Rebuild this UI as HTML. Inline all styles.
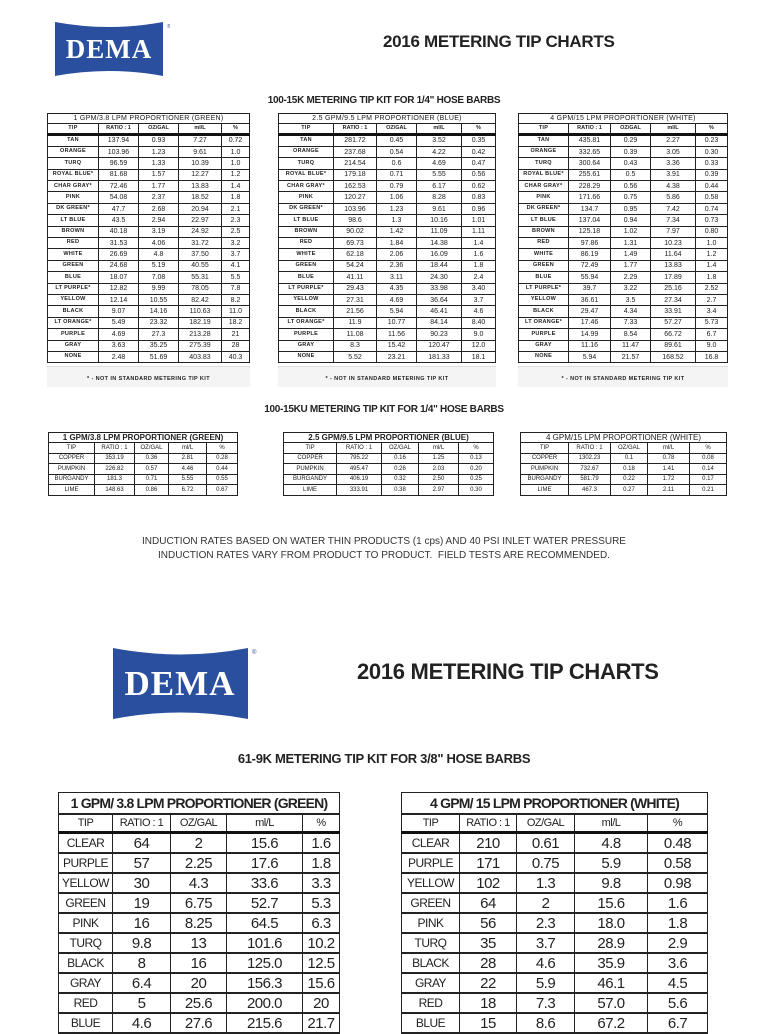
<!DOCTYPE html>
<html><head><meta charset="utf-8"><style>
body{margin:0;width:768px;height:1024px;background:#fff;position:relative;overflow:hidden;font-family:"Liberation Sans",sans-serif;color:#222}
.a{position:absolute}
table{position:absolute;border-collapse:collapse;table-layout:fixed;border:1.5px solid #111}
td{border:1px solid #222;text-align:center;padding:0;white-space:nowrap;overflow:hidden;line-height:1}
.s td{font-size:7px;height:10.4px}
.s td:first-child{font-size:5.5px;font-weight:bold;letter-spacing:.3px}
.s tr.h td{font-weight:bold;font-size:5.5px;height:8.5px}
.s tr.tt td{font-size:7px;height:9px;font-weight:normal}
.s tr.f1 td{border-top:3px solid #111}
.m td{font-size:6px;height:9.5px}
.m tr.tt td{font-size:8px;font-weight:bold;height:9px}
.b td{font-size:15px;height:18px;letter-spacing:-.5px}
.b td:first-child{font-size:12px}
.b tr.h td{font-size:11px;height:16px}
.b tr.tt td{font-size:14px;font-weight:bold;height:20px;letter-spacing:-.8px}
.b tr.f1 td{border-top:3px solid #111}
.b tr td{border-bottom-width:2px}
.ttl{font-weight:bold;color:#222;letter-spacing:-.3px;white-space:nowrap}
.note{font-size:5.5px;font-weight:bold;text-align:center;letter-spacing:.4px}
</style></head><body>

<svg class="a" style="left:55px;top:18px" width="115" height="62" viewBox="0 0 115 62">
<path d="M0 4 Q54 14 108 4 L108 58 Q54 48 0 58 Z" fill="#2a4f9f"/>
<text x="54" y="40" text-anchor="middle" fill="#fff" font-family="Liberation Serif" font-weight="bold" font-size="27" letter-spacing="1">DEMA</text>
<text x="112" y="10" font-size="5" fill="#2a4f9f">®</text>
</svg>
<div class="a ttl" style="left:383px;top:32px;font-size:17px">2016 METERING TIP CHARTS</div>
<div class="a ttl" style="left:0;width:768px;text-align:center;top:95px;font-size:10px">100-15K METERING TIP KIT FOR 1/4" HOSE BARBS</div>

<table class="s" style="left:47px;top:113px;width:203px">
<colgroup><col style="width:51px"><col style="width:40px"><col style="width:40px"><col style="width:43px"><col></colgroup>
<tr class="tt"><td colspan="5">1 GPM/3.8 LPM PROPORTIONER (GREEN)</td></tr>
<tr class="h"><td>TIP</td><td>RATIO : 1</td><td>OZ/GAL</td><td>ml/L</td><td>%</td></tr>
<tr class="f1"><td>TAN</td><td>137.94</td><td>0.93</td><td>7.27</td><td>0.72</td></tr>
<tr><td>ORANGE</td><td>103.96</td><td>1.23</td><td>9.61</td><td>1.0</td></tr>
<tr><td>TURQ</td><td>96.59</td><td>1.33</td><td>10.39</td><td>1.0</td></tr>
<tr><td>ROYAL BLUE*</td><td>81.68</td><td>1.57</td><td>12.27</td><td>1.2</td></tr>
<tr><td>CHAR GRAY*</td><td>72.46</td><td>1.77</td><td>13.83</td><td>1.4</td></tr>
<tr><td>PINK</td><td>54.08</td><td>2.37</td><td>18.52</td><td>1.8</td></tr>
<tr><td>DK GREEN*</td><td>47.7</td><td>2.68</td><td>20.94</td><td>2.1</td></tr>
<tr><td>LT BLUE</td><td>43.5</td><td>2.94</td><td>22.97</td><td>2.3</td></tr>
<tr><td>BROWN</td><td>40.18</td><td>3.19</td><td>24.92</td><td>2.5</td></tr>
<tr><td>RED</td><td>31.53</td><td>4.06</td><td>31.72</td><td>3.2</td></tr>
<tr><td>WHITE</td><td>26.69</td><td>4.8</td><td>37.50</td><td>3.7</td></tr>
<tr><td>GREEN</td><td>24.68</td><td>5.19</td><td>40.55</td><td>4.1</td></tr>
<tr><td>BLUE</td><td>18.07</td><td>7.08</td><td>55.31</td><td>5.5</td></tr>
<tr><td>LT PURPLE*</td><td>12.82</td><td>9.99</td><td>78.05</td><td>7.8</td></tr>
<tr><td>YELLOW</td><td>12.14</td><td>10.55</td><td>82.42</td><td>8.2</td></tr>
<tr><td>BLACK</td><td>9.07</td><td>14.16</td><td>110.63</td><td>11.0</td></tr>
<tr><td>LT ORANGE*</td><td>5.49</td><td>23.32</td><td>182.19</td><td>18.2</td></tr>
<tr><td>PURPLE</td><td>4.69</td><td>27.3</td><td>213.28</td><td>21</td></tr>
<tr><td>GRAY</td><td>3.63</td><td>35.25</td><td>275.39</td><td>28</td></tr>
<tr><td>NONE</td><td>2.48</td><td>51.69</td><td>403.83</td><td>40.3</td></tr>
</table>

<table class="s" style="left:278px;top:113px;width:218px">
<colgroup><col style="width:55px"><col style="width:43px"><col style="width:40px"><col style="width:45px"><col></colgroup>
<tr class="tt"><td colspan="5">2.5 GPM/9.5 LPM PROPORTIONER (BLUE)</td></tr>
<tr class="h"><td>TIP</td><td>RATIO : 1</td><td>OZ/GAL</td><td>ml/L</td><td>%</td></tr>
<tr class="f1"><td>TAN</td><td>281.72</td><td>0.45</td><td>3.52</td><td>0.35</td></tr>
<tr><td>ORANGE</td><td>237.68</td><td>0.54</td><td>4.22</td><td>0.42</td></tr>
<tr><td>TURQ</td><td>214.54</td><td>0.6</td><td>4.69</td><td>0.47</td></tr>
<tr><td>ROYAL BLUE*</td><td>179.18</td><td>0.71</td><td>5.55</td><td>0.56</td></tr>
<tr><td>CHAR GRAY*</td><td>162.53</td><td>0.79</td><td>6.17</td><td>0.62</td></tr>
<tr><td>PINK</td><td>120.27</td><td>1.06</td><td>8.28</td><td>0.83</td></tr>
<tr><td>DK GREEN*</td><td>103.96</td><td>1.23</td><td>9.61</td><td>0.96</td></tr>
<tr><td>LT BLUE</td><td>98.6</td><td>1.3</td><td>10.16</td><td>1.01</td></tr>
<tr><td>BROWN</td><td>90.02</td><td>1.42</td><td>11.09</td><td>1.11</td></tr>
<tr><td>RED</td><td>69.73</td><td>1.84</td><td>14.38</td><td>1.4</td></tr>
<tr><td>WHITE</td><td>62.18</td><td>2.06</td><td>16.09</td><td>1.6</td></tr>
<tr><td>GREEN</td><td>54.24</td><td>2.36</td><td>18.44</td><td>1.8</td></tr>
<tr><td>BLUE</td><td>41.11</td><td>3.11</td><td>24.30</td><td>2.4</td></tr>
<tr><td>LT PURPLE*</td><td>29.43</td><td>4.35</td><td>33.98</td><td>3.40</td></tr>
<tr><td>YELLOW</td><td>27.31</td><td>4.69</td><td>36.64</td><td>3.7</td></tr>
<tr><td>BLACK</td><td>21.56</td><td>5.94</td><td>46.41</td><td>4.6</td></tr>
<tr><td>LT ORANGE*</td><td>11.9</td><td>10.77</td><td>84.14</td><td>8.40</td></tr>
<tr><td>PURPLE</td><td>11.08</td><td>11.56</td><td>90.23</td><td>9.0</td></tr>
<tr><td>GRAY</td><td>8.3</td><td>15.42</td><td>120.47</td><td>12.0</td></tr>
<tr><td>NONE</td><td>5.52</td><td>23.21</td><td>181.33</td><td>18.1</td></tr>
</table>

<table class="s" style="left:518px;top:113px;width:210px">
<colgroup><col style="width:50px"><col style="width:42px"><col style="width:40px"><col style="width:45px"><col></colgroup>
<tr class="tt"><td colspan="5">4 GPM/15 LPM PROPORTIONER (WHITE)</td></tr>
<tr class="h"><td>TIP</td><td>RATIO : 1</td><td>OZ/GAL</td><td>ml/L</td><td>%</td></tr>
<tr class="f1"><td>TAN</td><td>435.81</td><td>0.29</td><td>2.27</td><td>0.23</td></tr>
<tr><td>ORANGE</td><td>332.65</td><td>0.39</td><td>3.05</td><td>0.30</td></tr>
<tr><td>TURQ</td><td>300.64</td><td>0.43</td><td>3.36</td><td>0.33</td></tr>
<tr><td>ROYAL BLUE*</td><td>255.61</td><td>0.5</td><td>3.91</td><td>0.39</td></tr>
<tr><td>CHAR GRAY*</td><td>228.29</td><td>0.56</td><td>4.38</td><td>0.44</td></tr>
<tr><td>PINK</td><td>171.66</td><td>0.75</td><td>5.86</td><td>0.58</td></tr>
<tr><td>DK GREEN*</td><td>134.7</td><td>0.95</td><td>7.42</td><td>0.74</td></tr>
<tr><td>LT BLUE</td><td>137.04</td><td>0.94</td><td>7.34</td><td>0.73</td></tr>
<tr><td>BROWN</td><td>125.18</td><td>1.02</td><td>7.97</td><td>0.80</td></tr>
<tr><td>RED</td><td>97.86</td><td>1.31</td><td>10.23</td><td>1.0</td></tr>
<tr><td>WHITE</td><td>86.19</td><td>1.49</td><td>11.64</td><td>1.2</td></tr>
<tr><td>GREEN</td><td>72.49</td><td>1.77</td><td>13.83</td><td>1.4</td></tr>
<tr><td>BLUE</td><td>55.94</td><td>2.29</td><td>17.89</td><td>1.8</td></tr>
<tr><td>LT PURPLE*</td><td>39.7</td><td>3.22</td><td>25.16</td><td>2.52</td></tr>
<tr><td>YELLOW</td><td>36.61</td><td>3.5</td><td>27.34</td><td>2.7</td></tr>
<tr><td>BLACK</td><td>29.47</td><td>4.34</td><td>33.91</td><td>3.4</td></tr>
<tr><td>LT ORANGE*</td><td>17.46</td><td>7.33</td><td>57.27</td><td>5.73</td></tr>
<tr><td>PURPLE</td><td>14.99</td><td>8.54</td><td>66.72</td><td>6.7</td></tr>
<tr><td>GRAY</td><td>11.16</td><td>11.47</td><td>89.61</td><td>9.0</td></tr>
<tr><td>NONE</td><td>5.94</td><td>21.57</td><td>168.52</td><td>16.8</td></tr>
</table>

<div class="a" style="left:47px;top:366px;width:203px;height:20px;background:#f4f4f4;border-top:1px solid #ddd"></div>
<div class="a" style="left:278px;top:366px;width:218px;height:20px;background:#f4f4f4;border-top:1px solid #ddd"></div>
<div class="a" style="left:518px;top:366px;width:210px;height:20px;background:#f4f4f4;border-top:1px solid #ddd"></div>
<div class="a note" style="left:47px;top:376px;width:203px">* - NOT IN STANDARD METERING TIP KIT</div>
<div class="a note" style="left:278px;top:376px;width:218px">* - NOT IN STANDARD METERING TIP KIT</div>
<div class="a note" style="left:518px;top:376px;width:210px">* - NOT IN STANDARD METERING TIP KIT</div>

<div class="a ttl" style="left:0;width:768px;text-align:center;top:404px;font-size:10px">100-15KU METERING TIP KIT FOR 1/4" HOSE BARBS</div>

<table class="m" style="left:48px;top:432px;width:190px">
<colgroup><col style="width:46px"><col style="width:40px"><col style="width:34px"><col style="width:38px"><col></colgroup>
<tr class="tt"><td colspan="5">1 GPM/3.8 LPM PROPORTIONER (GREEN)</td></tr>
<tr><td>TIP</td><td>RATIO : 1</td><td>OZ/GAL</td><td>ml/L</td><td>%</td></tr>
<tr><td>COPPER</td><td>353.19</td><td>0.36</td><td>2.81</td><td>0.28</td></tr>
<tr><td>PUMPKIN</td><td>226.82</td><td>0.57</td><td>4.46</td><td>0.44</td></tr>
<tr><td>BURGANDY</td><td>181.3</td><td>0.71</td><td>5.55</td><td>0.55</td></tr>
<tr><td>LIME</td><td>148.63</td><td>0.86</td><td>6.72</td><td>0.67</td></tr>
</table>
<table class="m" style="left:283px;top:432px;width:211px">
<colgroup><col style="width:53px"><col style="width:45px"><col style="width:37px"><col style="width:40px"><col></colgroup>
<tr class="tt"><td colspan="5">2.5 GPM/9.5 LPM PROPORTIONER (BLUE)</td></tr>
<tr><td>TIP</td><td>RATIO : 1</td><td>OZ/GAL</td><td>ml/L</td><td>%</td></tr>
<tr><td>COPPER</td><td>795.22</td><td>0.16</td><td>1.25</td><td>0.13</td></tr>
<tr><td>PUMPKIN</td><td>495.47</td><td>0.26</td><td>2.03</td><td>0.20</td></tr>
<tr><td>BURGANDY</td><td>406.19</td><td>0.32</td><td>2.50</td><td>0.25</td></tr>
<tr><td>LIME</td><td>333.91</td><td>0.38</td><td>2.97</td><td>0.30</td></tr>
</table>
<table class="m" style="left:520px;top:432px;width:207px">
<colgroup><col style="width:48px"><col style="width:42px"><col style="width:37px"><col style="width:42px"><col></colgroup>
<tr class="tt"><td colspan="5" style="font-weight:normal">4 GPM/15 LPM PROPORTIONER (WHITE)</td></tr>
<tr><td>TIP</td><td>RATIO : 1</td><td>OZ/GAL</td><td>ml/L</td><td>%</td></tr>
<tr><td>COPPER</td><td>1302.23</td><td>0.1</td><td>0.78</td><td>0.08</td></tr>
<tr><td>PUMPKIN</td><td>732.67</td><td>0.18</td><td>1.41</td><td>0.14</td></tr>
<tr><td>BURGANDY</td><td>581.79</td><td>0.22</td><td>1.72</td><td>0.17</td></tr>
<tr><td>LIME</td><td>467.3</td><td>0.27</td><td>2.11</td><td>0.21</td></tr>
</table>

<div class="a" style="left:0;width:768px;text-align:center;top:535px;font-size:10px;line-height:14px;color:#333">INDUCTION RATES BASED ON WATER THIN PRODUCTS (1 cps) AND 40 PSI INLET WATER PRESSURE<br>INDUCTION RATES VARY FROM PRODUCT TO PRODUCT.&nbsp; FIELD TESTS ARE RECOMMENDED.</div>

<svg class="a" style="left:113px;top:643px" width="145" height="80" viewBox="0 0 145 80">
<path d="M0 5 Q68 18 135 5 L135 76 Q68 63 0 76 Z" fill="#2a4f9f"/>
<text x="67" y="52" text-anchor="middle" fill="#fff" font-family="Liberation Serif" font-weight="bold" font-size="35" letter-spacing="1">DEMA</text>
<text x="139" y="11" font-size="6" fill="#2a4f9f">®</text>
</svg>
<div class="a ttl" style="left:357px;top:659px;font-size:22px">2016 METERING TIP CHARTS</div>
<div class="a ttl" style="left:0;width:768px;text-align:center;top:751px;font-size:13px">61-9K METERING TIP KIT FOR 3/8" HOSE BARBS</div>

<table class="b" style="left:58px;top:792px;width:282px">
<colgroup><col style="width:54px"><col style="width:58px"><col style="width:56px"><col style="width:76px"><col></colgroup>
<tr class="tt"><td colspan="5">1 GPM/ 3.8 LPM PROPORTIONER (GREEN)</td></tr>
<tr class="h"><td>TIP</td><td>RATIO : 1</td><td>OZ/GAL</td><td>ml/L</td><td>%</td></tr>
<tr class="f1"><td>CLEAR</td><td>64</td><td>2</td><td>15.6</td><td>1.6</td></tr>
<tr><td>PURPLE</td><td>57</td><td>2.25</td><td>17.6</td><td>1.8</td></tr>
<tr><td>YELLOW</td><td>30</td><td>4.3</td><td>33.6</td><td>3.3</td></tr>
<tr><td>GREEN</td><td>19</td><td>6.75</td><td>52.7</td><td>5.3</td></tr>
<tr><td>PINK</td><td>16</td><td>8.25</td><td>64.5</td><td>6.3</td></tr>
<tr><td>TURQ</td><td>9.8</td><td>13</td><td>101.6</td><td>10.2</td></tr>
<tr><td>BLACK</td><td>8</td><td>16</td><td>125.0</td><td>12.5</td></tr>
<tr><td>GRAY</td><td>6.4</td><td>20</td><td>156.3</td><td>15.6</td></tr>
<tr><td>RED</td><td>5</td><td>25.6</td><td>200.0</td><td>20</td></tr>
<tr><td>BLUE</td><td>4.6</td><td>27.6</td><td>215.6</td><td>21.7</td></tr>
</table>

<table class="b" style="left:401px;top:792px;width:307px">
<colgroup><col style="width:58px"><col style="width:57px"><col style="width:58px"><col style="width:73px"><col></colgroup>
<tr class="tt"><td colspan="5">4 GPM/ 15 LPM PROPORTIONER (WHITE)</td></tr>
<tr class="h"><td>TIP</td><td>RATIO : 1</td><td>OZ/GAL</td><td>ml/L</td><td>%</td></tr>
<tr class="f1"><td>CLEAR</td><td>210</td><td>0.61</td><td>4.8</td><td>0.48</td></tr>
<tr><td>PURPLE</td><td>171</td><td>0.75</td><td>5.9</td><td>0.58</td></tr>
<tr><td>YELLOW</td><td>102</td><td>1.3</td><td>9.8</td><td>0.98</td></tr>
<tr><td>GREEN</td><td>64</td><td>2</td><td>15.6</td><td>1.6</td></tr>
<tr><td>PINK</td><td>56</td><td>2.3</td><td>18.0</td><td>1.8</td></tr>
<tr><td>TURQ</td><td>35</td><td>3.7</td><td>28.9</td><td>2.9</td></tr>
<tr><td>BLACK</td><td>28</td><td>4.6</td><td>35.9</td><td>3.6</td></tr>
<tr><td>GRAY</td><td>22</td><td>5.9</td><td>46.1</td><td>4.5</td></tr>
<tr><td>RED</td><td>18</td><td>7.3</td><td>57.0</td><td>5.6</td></tr>
<tr><td>BLUE</td><td>15</td><td>8.6</td><td>67.2</td><td>6.7</td></tr>
</table>
</body></html>
